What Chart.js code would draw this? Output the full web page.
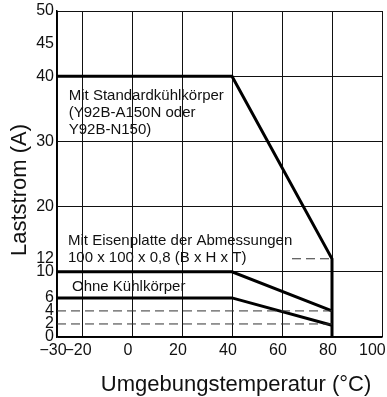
<!DOCTYPE html>
<html>
<head>
<meta charset="utf-8">
<script src="https://cdn.jsdelivr.net/npm/chart.js@4/dist/chart.umd.min.js"></script>
<style>
  html, body { margin: 0; padding: 0; background: #fff; }
  #wrap { width: 387px; height: 397px; }
</style>
</head>
<body>
<div id="wrap"><canvas id="myChart" width="387" height="397"></canvas></div>
<script>
// tick labels
const xTicks = [-30, -20, 0, 20, 40, 60, 80, 100];
const yTicks = [0, 2, 4, 6, 10, 12, 20, 30, 40, 45, 50];

// derating curves (temperature in °C, current in A)
const standardTemps = [-30, 40, 80, 80];
const standardCurrent = [40, 40, 12, 0];
const plateTemps = [-30, 40, 80];
const plateCurrent = [10, 10, 4];
const bareTemps = [-30, 40, 80];
const bareCurrent = [6, 6, 1.8];

// dashed helper lines
const guide12Temps = [64, 80];
const guide12Current = [12, 12];
const guideLowTemps = [-30, 80];
const guide4Current = [4, 4];
const guide2Current = [2, 2];

const font = "'Liberation Sans', Arial, Helvetica, sans-serif";

function toPoints(xs, ys) {
  return xs.map((x, i) => ({ x: x, y: ys[i] }));
}

function curve(xs, ys) {
  return {
    data: toPoints(xs, ys),
    borderColor: '#000',
    borderWidth: 3,
    pointRadius: 0,
    showLine: true,
    tension: 0
  };
}

function guide(xs, ys) {
  return {
    data: toPoints(xs, ys),
    borderColor: '#333',
    borderWidth: 1,
    borderDash: [9, 5],
    pointRadius: 0,
    showLine: true,
    tension: 0
  };
}

// text notes, placed in data units
const notes = [
  { text: 'Mit Standardkühlkörper', x: -25.3, y: 37.0 },
  { text: '(Y92B-A150N oder', x: -25.3, y: 34.4 },
  { text: 'Y92B-N150)', x: -25.3, y: 31.8 },
  { text: 'Mit Eisenplatte der Abmessungen', x: -25.6, y: 14.7 },
  { text: '100 x 100 x 0,8 (B x H x T)', x: -25.6, y: 12.2 },
  { text: 'Ohne Kühlkörper', x: -24.0, y: 7.7 }
];

const textPlugin = {
  id: 'texts',
  afterDraw(chart) {
    const ctx = chart.ctx;
    const xs = chart.scales.x;
    const ys = chart.scales.y;
    ctx.save();
    ctx.fillStyle = '#111';
    ctx.textAlign = 'left';
    ctx.textBaseline = 'middle';
    ctx.font = '15px ' + font;
    notes.forEach(n => {
      ctx.fillText(n.text, xs.getPixelForValue(n.x), ys.getPixelForValue(n.y));
    });

    // axis titles
    ctx.font = '22px ' + font;
    ctx.textAlign = 'center';
    ctx.fillText('Umgebungstemperatur (°C)', 236, 385);
    ctx.translate(20, 190);
    ctx.rotate(-Math.PI / 2);
    ctx.fillText('Laststrom (A)', 0, 0);
    ctx.restore();
  }
};

// labels sit a bit left of their grid lines, last one kept inside the canvas
function xLabel(v) {
  const txt = v < 0 ? '\u2212' + Math.abs(v) : '' + v;
  return v === 100 ? txt + '\u2003\u2009' : txt + '\u2002';
}

const ctx = document.getElementById('myChart').getContext('2d');
const chart = new Chart(ctx, {
  type: 'scatter',
  data: {
    datasets: [
      guide(guide12Temps, guide12Current),
      guide(guideLowTemps, guide4Current),
      guide(guideLowTemps, guide2Current),
      curve(standardTemps, standardCurrent),
      curve(plateTemps, plateCurrent),
      curve(bareTemps, bareCurrent)
    ]
  },
  options: {
    responsive: false,
    animation: false,
    layout: { padding: { top: 11, right: 5, left: 0, bottom: 0 } },
    plugins: {
      legend: { display: false },
      tooltip: { enabled: false }
    },
    scales: {
      x: {
        type: 'linear',
        min: -30,
        max: 100,
        afterBuildTicks: scale => { scale.ticks = xTicks.map(v => ({ value: v })); },
        afterFit: scale => {
          scale.height = 60;
          scale.paddingLeft = 0;
          scale.paddingRight = 0;
        },
        border: { color: '#000', width: 1.5 },
        grid: { color: '#111', lineWidth: 1, drawTicks: false },
        ticks: {
          autoSkip: false,
          maxRotation: 0,
          padding: 4,
          color: '#111',
          font: { family: font, size: 16 },
          callback: xLabel
        }
      },
      y: {
        type: 'linear',
        min: 0,
        max: 50,
        afterBuildTicks: scale => { scale.ticks = yTicks.map(v => ({ value: v })); },
        afterFit: scale => {
          scale.width = 57;
          scale.paddingTop = 0;
          scale.paddingBottom = 0;
        },
        border: { color: '#000', width: 1.5 },
        grid: {
          color: c => (c.tick && c.tick.value % 10 === 0 ? '#111' : 'rgba(0,0,0,0)'),
          lineWidth: 1,
          drawTicks: false
        },
        ticks: {
          autoSkip: false,
          padding: 3,
          color: '#111',
          font: { family: font, size: 16, lineHeight: 1 }
        }
      }
    }
  },
  plugins: [textPlugin]
});
</script>
</body>
</html>
